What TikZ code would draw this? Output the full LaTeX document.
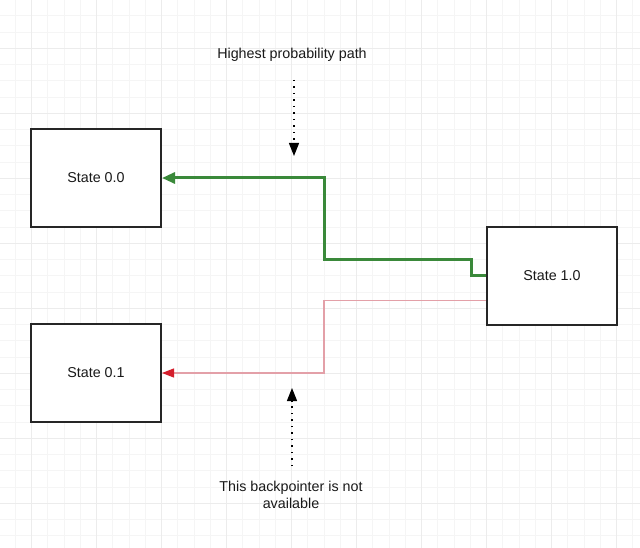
\documentclass[tikz,border=0pt]{standalone}
\usepackage{fontspec}
\setmainfont{Liberation Sans}
\usetikzlibrary{arrows.meta}
\definecolor{gridminor}{HTML}{F5F5F5}
\definecolor{gridmajor}{HTML}{ECECEC}
\definecolor{pathgreen}{HTML}{3A893A}
\definecolor{pathred}{HTML}{D41E2C}
\definecolor{pathpink}{HTML}{E3A0A8}
\tikzset{
  statebox/.style={draw=black!85, line width=2pt, fill=white, minimum width=130pt, minimum height=98pt, inner sep=0pt, font=\fontsize{14.3}{17}\selectfont, text=black!90},
  note/.style={font=\fontsize{14.3}{17}\selectfont, text=black!90, align=center, inner sep=0pt},
  bestpath/.style={draw=pathgreen, line width=3pt, -{Triangle[length=13pt,width=11pt]}},
  nopath/.style={draw=pathpink, line width=1.2pt, -{Triangle[length=12pt,width=9pt,color=pathred]}},
  pointer/.style={draw=black, line width=1.3pt, dash pattern=on 1.3pt off 5.2pt, -{Triangle[length=13pt,width=10pt]}},
}
\begin{document}
\begin{tikzpicture}[x=1pt, y=-1pt]
\useasboundingbox[fill=white] (0,0) rectangle (640,548);
% grid
\foreach \i in {0,...,39} \draw[gridminor, line width=1pt] ({-0.8+16.25*\i},0) -- ({-0.8+16.25*\i},548);
\foreach \i in {1,...,33} \draw[gridminor, line width=1pt] (0,{-0.45+16.25*\i}) -- (640,{-0.45+16.25*\i});
\foreach \i in {0,...,9} \draw[gridmajor, line width=1pt] ({31.7+65*\i},0) -- ({31.7+65*\i},548);
\foreach \i in {0,...,7} \draw[gridmajor, line width=1pt] (0,{48.3+65*\i}) -- (640,{48.3+65*\i});
% states
\node[statebox] (s00) at (96,178) {State 0.0};
\node[statebox] (s01) at (96,373) {State 0.1};
\node[statebox] (s10) at (552,275.6) {State 1.0};
% green path
\coordinate (g1) at (471,275.6);
\coordinate (g2) at (471,259.8);
\coordinate (g3) at (324,259.8);
\draw[bestpath] (s10.west) -- (g1) -- (g2) -- (g3) |- (s00.east);
% red path
\coordinate (r0) at ([yshift=-25pt]s10.west);
\coordinate (r1) at (324,300.6);
\draw[nopath] (r0) -- (r1) |- (s01.east);
% notes
\node[note] (n1) at (292,55) {Highest probability path};
\coordinate (p1a) at (294,80);
\coordinate (p1b) at (294,156);
\draw[pointer] (p1a) -- (p1b);
\node[note] (n2) at (291,494.5) {This backpointer is not\\available};
\coordinate (p2a) at (292,466);
\coordinate (p2b) at (292,388);
\draw[pointer] (p2a) -- (p2b);
\end{tikzpicture}
\end{document}
